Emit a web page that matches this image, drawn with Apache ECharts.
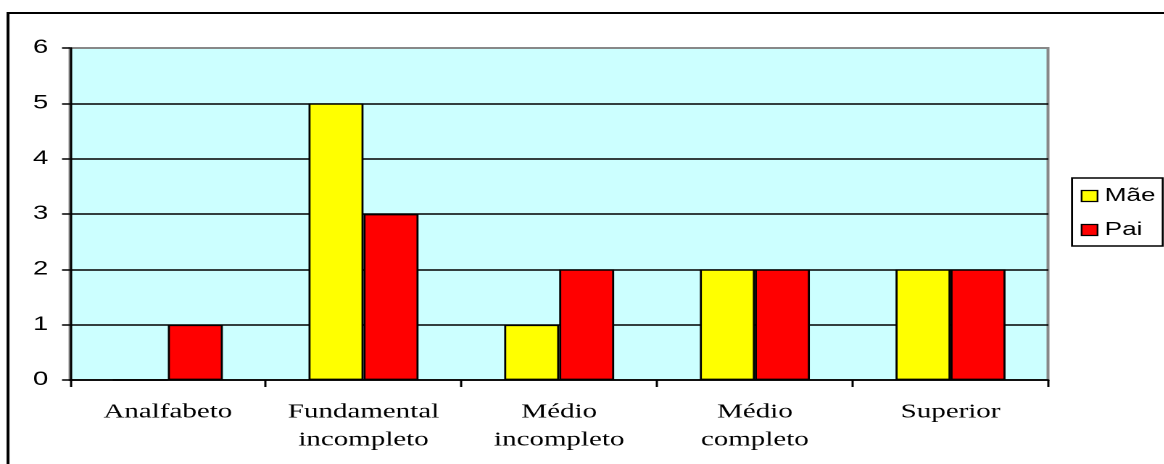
<!DOCTYPE html>
<html><head><meta charset="utf-8">
<script src="https://cdn.jsdelivr.net/npm/echarts@6/dist/echarts.min.js"></script>
<style>html,body{margin:0;padding:0;background:#fff;overflow:hidden}
#wrap{width:1164px;height:464px;overflow:hidden;position:relative}
#c{height:464px;transform-origin:0 0;position:absolute;left:0;top:0}</style>
</head><body><div id="wrap"><div id="c"></div></div>
<script>
const categories = ['Analfabeto', 'Fundamental\nincompleto', 'Médio\nincompleto', 'Médio\ncompleto', 'Superior'];
const maeValues = [0, 5, 1, 2, 2];
const paiValues = [1, 3, 2, 2, 2];
const seriesNames = ['Mãe', 'Pai'];

// the reference picture is stretched horizontally; reproduce that with a CSS scaleX
const S = 1.45;
const W = 1164 / S;
const el = document.getElementById('c');
el.style.width = W + 'px';
el.style.transform = 'scaleX(' + S + ')';

const chart = echarts.init(el, null, {devicePixelRatio: 2});
chart.setOption({
  animation: false,
  backgroundColor: '#fff',
  graphic: [
    {type: 'rect', shape: {x: 8 / S, y: 13, width: 1300, height: 600}, style: {fill: 'none', stroke: '#000', lineWidth: 2}, z: 100},
    {type: 'rect', shape: {x: 70 / S, y: 48, width: 978 / S, height: 332}, style: {fill: 'none', stroke: '#888', lineWidth: 2}, z: 0, silent: true}
  ],
  grid: {left: 70 / S, right: 116 / S, top: 48, bottom: 84, show: true, backgroundColor: '#CCFFFF', borderWidth: 0},
  legend: {
    orient: 'vertical', left: 1072 / S, top: 178,
    data: seriesNames,
    itemWidth: 11, itemHeight: 11, itemGap: 14,
    padding: [8, 5, 6, 6],
    borderColor: '#000', borderWidth: 1.4, borderRadius: 0,
    textStyle: {fontFamily: 'Liberation Sans, Arial', fontSize: 18, lineHeight: 20, color: '#000', padding: [0, 0, 0, 0]},
    icon: 'rect',
    itemStyle: {borderColor: '#000', borderWidth: 1.2}
  },
  xAxis: {
    type: 'category', data: categories,
    axisLine: {lineStyle: {color: '#000', width: 1.5}},
    axisTick: {show: true, interval: 0, alignWithLabel: false, length: 7, lineStyle: {color: '#000', width: 1.5}},
    axisLabel: {interval: 0, hideOverlap: false, fontFamily: 'Liberation Serif, Times New Roman', fontSize: 20, color: '#000', margin: 18, lineHeight: 28}
  },
  yAxis: {
    type: 'value', min: 0, max: 6, interval: 1,
    axisLine: {show: true, lineStyle: {color: '#000', width: 1.5}},
    axisTick: {show: true, length: 5.5, lineStyle: {color: '#000', width: 1.5}},
    axisLabel: {fontFamily: 'Liberation Sans, Arial', fontSize: 19, color: '#000', margin: 15},
    splitLine: {showMaxLine: false, lineStyle: {color: '#000', width: 1.5}}
  },
  series: [
    {name: seriesNames[0], type: 'bar', data: maeValues, barWidth: 55 / S, barGap: '0%',
     itemStyle: {color: '#FFFF00', borderColor: '#000', borderWidth: 1.4}},
    {name: seriesNames[1], type: 'bar', data: paiValues, barWidth: 55 / S, barGap: '0%',
     itemStyle: {color: '#FF0000', borderColor: '#000', borderWidth: 1.4}}
  ]
});
</script></body></html>
